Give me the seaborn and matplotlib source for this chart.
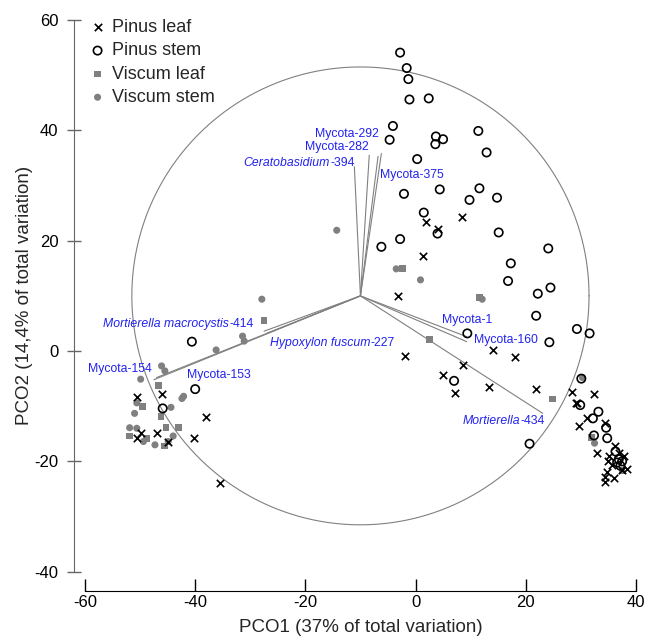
import numpy as np
import pandas as pd
import matplotlib
matplotlib.use("Agg")
import matplotlib.pyplot as plt
import seaborn as sns

sns.set_style("white")
plt.rcParams['font.family'] = ['Liberation Sans', 'DejaVu Sans']
plt.rcParams['axes.unicode_minus'] = False

# PCO scores
pinus_leaf_x = [1.9, 4.0, 8.4, 1.3, -3.2, 14.0, 18.0, -1.9, 8.6, 5.0, 7.2, 13.4, 21.9,
                28.4, 29.4, 32.4, 31.1, 29.6, 34.4, 32.9, 36.3, 35.2, 37.0, 37.8, 35.0,
                35.7, 37.5, 38.4, 34.8, 34.4, 36.0, 34.4, 29.2,
                -50.6, -46.0, -38.0, -49.9, -50.6, -47.0, -45.0, -40.3, -35.5]
pinus_leaf_y = [23.4, 22.1, 24.3, 17.3, 10.0, 0.2, -1.0, -0.9, -2.5, -4.4, -7.6, -6.5, -6.9,
                -7.4, -9.4, -7.7, -12.1, -13.6, -13.1, -18.5, -17.3, -19.1, -18.5, -19.1, -20.0,
                -20.7, -21.6, -21.4, -21.9, -22.8, -23.1, -23.7, -9.4,
                -8.4, -7.8, -11.9, -14.8, -15.8, -14.9, -16.4, -15.8, -24.0]

pinus_stem_x = [-2.8, -1.6, -1.3, -1.1, 2.4, -4.1, -4.7, 3.7, 5.0, 3.6, 11.4, 12.9, 0.3,
                -2.1, 4.4, 11.6, 9.8, 14.8, 1.5, 4.0, -2.8, -6.2, 15.1, 24.1, 17.3, 16.8,
                22.2, 24.5, 21.9, 29.3, 31.6, 24.3, 9.4, 7.0, 20.7, 30.1, 29.9, 33.2,
                32.2, 34.6, 32.4, 34.8, 36.3, 36.9, 37.5, 36.6, 37.2,
                -40.6, -40.0, -45.9]
pinus_stem_y = [54.1, 51.3, 49.3, 45.6, 45.8, 40.8, 38.3, 38.9, 38.4, 37.5, 39.9, 36.0, 34.8,
                28.5, 29.3, 29.5, 27.4, 27.8, 25.1, 21.3, 20.3, 18.9, 21.5, 18.6, 15.9, 12.7,
                10.4, 11.5, 6.4, 4.0, 3.2, 1.6, 3.2, -5.4, -16.8, -5.0, -9.8, -11.0,
                -12.2, -13.9, -15.3, -15.8, -18.2, -19.6, -20.0, -20.2, -20.8,
                1.7, -6.9, -10.4]

viscum_leaf_x = [-2.3, 11.6, 2.5, 24.8, 31.9, 37.5, -27.5, -46.7, -49.5, -46.2, -45.3,
                 -43.1, -51.9, -48.9, -45.6]
viscum_leaf_y = [15.0, 9.7, 2.1, -8.7, -15.7, -21.6, 5.6, -6.3, -10.1, -11.8, -13.8,
                 -13.8, -15.4, -15.8, -17.2]

viscum_stem_x = [-3.5, 0.9, 12.1, -14.3, -27.9, 30.3, 32.5, -31.4, -31.1, -36.2, -46.1,
                 -45.5, -49.9, -42.1, -42.4, -50.6, -44.4, -51.0, -51.9, -50.6, -44.0,
                 -49.4, -47.3, -44.9]
viscum_stem_y = [14.9, 12.9, 9.4, 21.9, 9.4, -4.8, -16.7, 2.7, 1.8, 0.2, -2.7,
                 -3.6, -5.1, -8.2, -8.6, -9.4, -10.2, -11.3, -13.9, -14.0, -15.4,
                 -16.4, -17.0, -16.4]

# vector overlay: origin, circle radius, tips and label anchors
centre = (-10, 10)
radius = 41.5
# (italic part, plain part)
vec_names = [('', 'Mycota-292'), ('', 'Mycota-282'), ('Ceratobasidium', '-394'),
             ('', 'Mycota-375'), ('Mortierella macrocystis', '-414'),
             ('Hypoxylon fuscum', '-227'), ('', 'Mycota-154'), ('', 'Mycota-153'),
             ('', 'Mycota-1'), ('', 'Mycota-160'), ('Mortierella', '-434')]
vec_x = [-6.2, -8.4, -11.1, -6.8, -27.5, -27.0, -47.5, -47.0, 9.3, 9.3, 23.1]
vec_y = [35.8, 35.5, 33.4, 35.3, 3.6, 3.2, -5.2, -4.8, 2.6, 1.7, -11.3]
lab_x = [-6.6, -8.4, -11.1, -6.4, -29.4, -26.5, -47.9, -41.5, 4.8, 10.7, 23.5]
lab_y = [39.3, 37.0, 34.1, 31.9, 4.9, 1.4, -3.3, -4.4, 5.6, 2.0, -12.6]
lab_ha = ['right', 'right', 'right', 'left', 'right', 'left', 'right', 'left', 'left',
          'left', 'right']

fig = plt.figure(figsize=(6.46, 6.37), dpi=100)
ax = fig.add_axes([0.1316, 0.1025, 0.8527, 0.866])

t = np.linspace(0, 2 * np.pi, 400)
ax.plot(centre[0] + radius * np.cos(t), centre[1] + radius * np.sin(t),
        color='#808080', lw=0.8, zorder=1)
for vx, vy in zip(vec_x, vec_y):
    ax.plot([centre[0], vx], [centre[1], vy], color='#808080', lw=0.8, zorder=1)

lab_kw = dict(fontsize=8.8, color='#2222ee', zorder=5)
for (ital, plain), lx, ly, ha in zip(vec_names, lab_x, lab_y, lab_ha):
    if ha == 'right':
        tp = ax.text(lx, ly, plain, ha='right', va='center', **lab_kw)
        if ital:
            ax.annotate(ital, xy=(0, 0), xycoords=tp, ha='right', va='bottom',
                        style='italic', **lab_kw)
    else:
        if ital:
            ti = ax.text(lx, ly, ital, ha='left', va='center', style='italic', **lab_kw)
            ax.annotate(plain, xy=(1, 0), xycoords=ti, ha='left', va='bottom', **lab_kw)
        else:
            ax.text(lx, ly, plain, ha='left', va='center', **lab_kw)

vl = pd.DataFrame({'x': viscum_leaf_x, 'y': viscum_leaf_y})
vs = pd.DataFrame({'x': viscum_stem_x, 'y': viscum_stem_y})
pl = pd.DataFrame({'x': pinus_leaf_x, 'y': pinus_leaf_y})
ps = pd.DataFrame({'x': pinus_stem_x, 'y': pinus_stem_y})

sns.scatterplot(data=vs, x='x', y='y', marker='o', s=26, color='#808080',
                edgecolor='none', ax=ax, zorder=2, label='Viscum stem')
sns.scatterplot(data=vl, x='x', y='y', marker='s', s=24, color='#808080',
                edgecolor='none', ax=ax, zorder=2, label='Viscum leaf')
sns.scatterplot(data=ps, x='x', y='y', marker='o', s=36, facecolor='none',
                edgecolor='black', linewidth=1.2, ax=ax, zorder=3, label='Pinus stem')
sns.scatterplot(data=pl, x='x', y='y', marker='x', s=28, color='black',
                linewidth=1.2, ax=ax, zorder=3, label='Pinus leaf')

h, l = ax.get_legend_handles_labels()
order = [3, 2, 1, 0]
ax.legend([h[i] for i in order], [l[i] for i in order], loc='upper left',
          bbox_to_anchor=(-0.01, 1.015), frameon=False, fontsize=13,
          handletextpad=0.2, labelspacing=0.35, handlelength=1.2, borderaxespad=0)

ax.set_xlim(-60, 40)
ax.set_ylim(-40, 60)
ax.set_xticks([-60, -40, -20, 0, 20, 40])
ax.set_yticks([-40, -20, 0, 20, 40, 60])
ax.set_xlabel('PCO1 (37% of total variation)', fontsize=13.5, labelpad=6)
ax.set_ylabel('PCO2 (14,4% of total variation)', fontsize=13.5, labelpad=1)

for side in ['top', 'right']:
    ax.spines[side].set_visible(False)
ax.spines['left'].set_position(('outward', 8))
ax.spines['bottom'].set_position(('outward', 14))
ax.spines['left'].set_color('#666666')
ax.spines['bottom'].set_color('black')
ax.tick_params(axis='y', left=True, direction='inout', length=10, width=1,
               labelsize=12, pad=6, color='#666666', labelcolor='black')
ax.tick_params(axis='x', bottom=True, direction='in', length=9, width=1,
               labelsize=12, pad=3, color='black', labelcolor='black')

fig.savefig('out.png', dpi=100)
